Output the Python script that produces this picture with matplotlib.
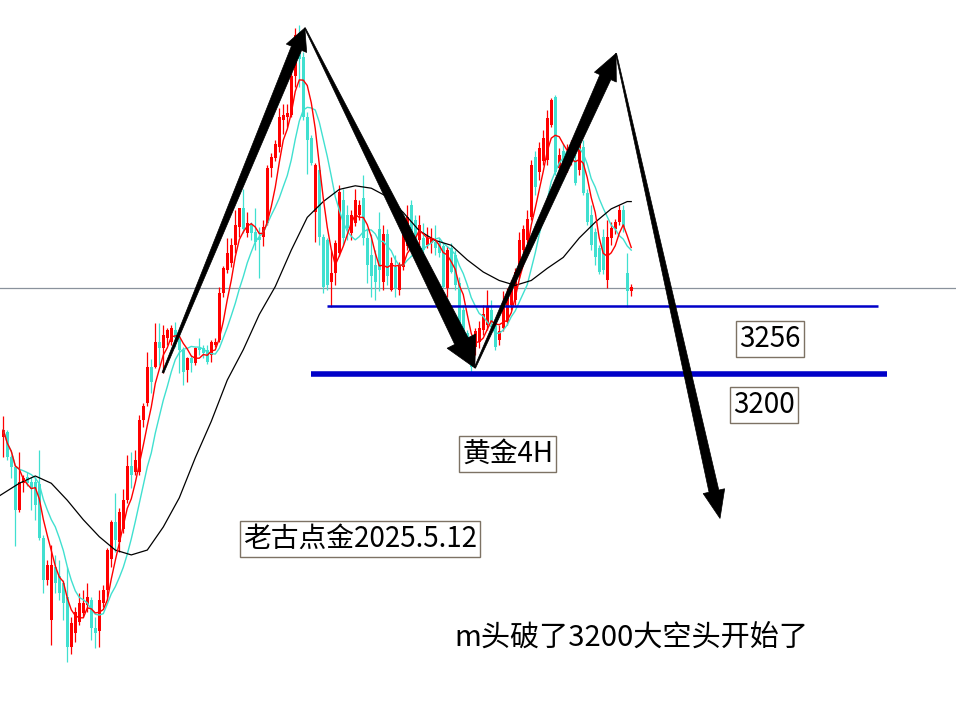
import numpy as np
import pandas as pd
import matplotlib
matplotlib.use("Agg")
import matplotlib.pyplot as plt
from matplotlib.patches import Polygon
from matplotlib.transforms import IdentityTransform

plt.rcParams['font.family'] = ['Noto Sans CJK SC', 'DejaVu Sans']

# ---- 4H gold candles (price) ----
opens = [3148, 3152, 3132, 3123, 3088, 3110, 3115, 3111, 3111, 3109,
         3065, 3030, 2997, 3041, 3034, 3028, 3016, 2975, 2987, 2996,
         3003, 3010, 3014, 2991, 2988, 3011, 3022, 3048, 3078, 3062,
         3072, 3096, 3124, 3119, 3119, 3162, 3176, 3206, 3206, 3226,
         3221, 3230, 3226, 3236, 3230, 3220, 3203, 3213, 3209, 3221,
         3221, 3220, 3216, 3224, 3228, 3267, 3286, 3291, 3306, 3321,
         3337, 3316, 3323, 3317, 3313, 3313, 3324, 3370, 3378, 3387,
         3409, 3412, 3413, 3445, 3481, 3461, 3412, 3394, 3333, 3368,
         3313, 3310, 3276, 3283, 3300, 3343, 3331, 3316, 3324, 3331,
         3345, 3312, 3298, 3290, 3319, 3276, 3315, 3269, 3288, 3269,
         3288, 3305, 3339, 3327, 3310, 3312, 3306, 3308, 3309, 3308,
         3305, 3271, 3304, 3298, 3275, 3253, 3234, 3221, 3222, 3226,
         3236, 3240, 3253, 3240, 3228, 3238, 3243, 3257, 3261, 3282,
         3302, 3310, 3329, 3379, 3366, 3375, 3376, 3405, 3428, 3370,
         3384, 3370, 3376, 3376, 3368, 3387, 3349, 3331, 3317, 3304,
         3313, 3277, 3312, 3319, 3325, 3335, 3283, 3268]
highs = [3165, 3154, 3133, 3124, 3136, 3117, 3119, 3115, 3115, 3137,
         3067, 3047, 3059, 3051, 3047, 3030, 3041, 3000, 3008, 3020,
         3022, 3028, 3016, 3000, 3022, 3026, 3057, 3080, 3102, 3090,
         3105, 3133, 3136, 3137, 3166, 3176, 3218, 3212, 3242, 3242,
         3240, 3238, 3240, 3243, 3234, 3222, 3214, 3216, 3222, 3230,
         3224, 3224, 3228, 3230, 3272, 3289, 3312, 3312, 3335, 3337,
         3352, 3333, 3325, 3337, 3321, 3327, 3372, 3382, 3393, 3419,
         3422, 3422, 3453, 3485, 3487, 3465, 3416, 3397, 3374, 3372,
         3315, 3312, 3302, 3310, 3356, 3352, 3339, 3335, 3352, 3343,
         3364, 3320, 3315, 3302, 3333, 3323, 3319, 3296, 3298, 3292,
         3319, 3339, 3343, 3331, 3331, 3324, 3321, 3320, 3323, 3312,
         3308, 3305, 3308, 3302, 3280, 3257, 3236, 3228, 3238, 3244,
         3257, 3269, 3261, 3245, 3240, 3268, 3271, 3277, 3287, 3317,
         3323, 3335, 3376, 3384, 3391, 3401, 3417, 3427, 3430, 3386,
         3389, 3389, 3393, 3384, 3393, 3393, 3352, 3339, 3320, 3306,
         3319, 3327, 3325, 3328, 3339, 3339, 3300, 3274]
lows = [3132, 3129, 3114, 3058, 3086, 3103, 3108, 3088, 3080, 3063,
        3020, 3026, 2977, 3020, 3014, 2997, 2963, 2969, 2979, 2993,
        3000, 3004, 2981, 2974, 2975, 3008, 3016, 3041, 3053, 3053,
        3069, 3094, 3106, 3117, 3117, 3156, 3174, 3184, 3205, 3207,
        3201, 3224, 3224, 3222, 3201, 3191, 3193, 3202, 3207, 3216,
        3213, 3208, 3210, 3222, 3226, 3263, 3283, 3288, 3300, 3313,
        3316, 3313, 3310, 3302, 3279, 3305, 3323, 3362, 3375, 3383,
        3398, 3403, 3412, 3436, 3436, 3409, 3365, 3372, 3309, 3306,
        3267, 3269, 3255, 3273, 3297, 3306, 3310, 3310, 3322, 3327,
        3306, 3275, 3263, 3261, 3268, 3269, 3273, 3268, 3263, 3265,
        3286, 3302, 3310, 3302, 3306, 3300, 3304, 3300, 3298, 3296,
        3271, 3263, 3283, 3269, 3232, 3228, 3213, 3201, 3216, 3221,
        3232, 3236, 3236, 3220, 3224, 3235, 3240, 3253, 3257, 3279,
        3298, 3308, 3327, 3347, 3360, 3372, 3372, 3403, 3364, 3366,
        3360, 3366, 3372, 3356, 3364, 3347, 3323, 3302, 3290, 3282,
        3282, 3271, 3306, 3315, 3323, 3317, 3255, 3264]
closes = [3154, 3132, 3123, 3088, 3111, 3114, 3110, 3105, 3092, 3065,
          3030, 3043, 3043, 3028, 3020, 3011, 2975, 2995, 3004, 3011,
          3011, 3016, 2991, 2987, 3014, 3022, 3055, 3078, 3063, 3086,
          3096, 3124, 3117, 3129, 3162, 3174, 3206, 3193, 3226, 3221,
          3232, 3236, 3238, 3230, 3220, 3202, 3213, 3209, 3221, 3220,
          3217, 3210, 3226, 3226, 3267, 3287, 3300, 3306, 3323, 3337,
          3319, 3324, 3316, 3309, 3310, 3321, 3370, 3379, 3389, 3412,
          3413, 3415, 3445, 3479, 3459, 3412, 3393, 3374, 3372, 3313,
          3272, 3273, 3283, 3308, 3350, 3312, 3320, 3331, 3343, 3339,
          3312, 3290, 3281, 3276, 3286, 3315, 3281, 3291, 3271, 3290,
          3316, 3329, 3313, 3310, 3323, 3302, 3312, 3312, 3304, 3300,
          3272, 3302, 3284, 3273, 3234, 3234, 3220, 3206, 3235, 3238,
          3249, 3255, 3242, 3222, 3235, 3259, 3263, 3273, 3284, 3310,
          3319, 3328, 3372, 3354, 3386, 3394, 3411, 3426, 3366, 3380,
          3364, 3384, 3389, 3357, 3389, 3349, 3325, 3306, 3296, 3284,
          3286, 3313, 3320, 3325, 3335, 3321, 3268, 3272]

# long moving average (black) at candle indices
ma_long_idx = [-0.8, 4, 8, 12, 16, 20, 24, 28, 32, 36, 40, 44, 48, 52, 56, 60,
               64, 68, 72, 76, 80, 84, 88, 92, 96, 100, 104, 108, 112, 116,
               120, 124, 128, 132, 136, 140, 144, 148, 152, 156, 157]
ma_long_val = [3100, 3110, 3116, 3110, 3096, 3080, 3066, 3055, 3051, 3055,
               3074, 3098, 3131, 3161, 3195, 3220, 3249, 3272, 3302, 3329,
               3342, 3352, 3355, 3353, 3346, 3333, 3318, 3310, 3306, 3294,
               3284, 3277, 3273, 3277, 3287, 3296, 3312, 3325, 3336, 3342,
               3342]

level_mid = 3256
level_key = 3200
last_price = 3271

# arrow path anchors: (candle index, price)
path_x = [39.9, 75.4, 117.9, 153.2, 179.2]
path_y = [3201, 3485, 3205, 3464, 3081]

labels = ["3256", "3200", "黄金4H", "老古点金2025.5.12"]
caption = "m头破了3200大空头开始了"

# ---- figure ----
fig = plt.figure(figsize=(9.56, 7.09), dpi=100)
ax = fig.add_axes([0, 0, 1, 1])
ax.set_xlim(-0.825, 238.2)
ax.set_ylim(2924.1, 3508)
ax.axis('off')

o = np.array(opens, float); h = np.array(highs, float)
l = np.array(lows, float); c = np.array(closes, float)
x = np.arange(len(c))
up = c >= o
cols = np.where(up, '#FF0000', '#40E0D0')

ax.axhline(last_price, color='#8a929c', lw=0.9, zorder=1)

ax.vlines(x, l, h, colors=cols, lw=0.9, zorder=2)
bh = np.maximum(np.abs(c - o), 0.9)
ax.bar(x, bh, bottom=np.minimum(o, c), width=0.8, color=cols,
       linewidth=0, zorder=3)

s = pd.Series(c)
ax.plot(x, s.rolling(10, min_periods=1).mean(), color='#40E0D0', lw=1, zorder=4)
ax.plot(x, s.rolling(5, min_periods=1).mean(), color='#FF0000', lw=1, zorder=5)
ax.plot(ma_long_idx, ma_long_val, color='black', lw=0.9, zorder=4)

ax.hlines(level_mid, 80.9, 218.7, color='#0000C8', lw=1.8, zorder=6)
ax.hlines(level_key, 76.9, 220.9, color='#0000C8', lw=4.0, zorder=6)

fig.canvas.draw()
T = ax.transData


def taper_arrow(p0, p1, w0, w1, hl, hw):
    a = np.array(T.transform(p0)); b = np.array(T.transform(p1))
    d = b - a
    L = np.hypot(*d)
    u = d / L
    nrm = np.array([-u[1], u[0]])
    base = b - u * hl
    pts = [a + nrm * w0, base + nrm * w1, base + nrm * hw, b,
           base - nrm * hw, base - nrm * w1, a - nrm * w0]
    ax.add_patch(Polygon(pts, closed=True, transform=IdentityTransform(),
                         facecolor='black', edgecolor='black', lw=0.5,
                         zorder=10))


specs = [(0.9, 5.5, 22, 11), (0.5, 7.5, 30, 16), (0.7, 6.0, 26, 12),
         (0.5, 5.0, 28, 11)]
for k, (w0, w1, hl, hw) in enumerate(specs):
    taper_arrow((path_x[k], path_y[k]), (path_x[k + 1], path_y[k + 1]),
                w0, w1, hl, hw)

box = dict(boxstyle='square,pad=0.12', fc='white', ec='#7d7264', lw=1)
pos = [(770, 339), (764, 405), (507.5, 454), (360, 539)]
for t, (px, py) in zip(labels, pos):
    fig.text(px / 956, 1 - py / 709, t, fontsize=20, ha='center',
             va='center', bbox=box, zorder=20)
fig.text(631 / 956, 1 - 638 / 709, caption, fontsize=21, ha='center',
         va='center', zorder=20)

fig.savefig('out.png', dpi=100)
